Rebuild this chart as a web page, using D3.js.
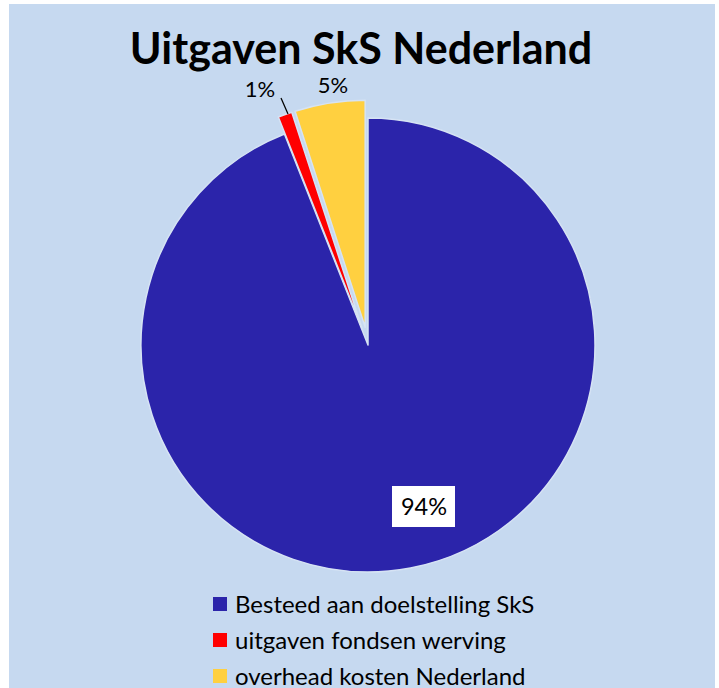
<!DOCTYPE html>
<html><head><meta charset="utf-8">
<script src="https://cdn.jsdelivr.net/npm/d3@7"></script>
<style>html,body{margin:0;padding:0;background:#fff;}svg{display:block;}</style>
</head><body>
<svg id="chart" width="719" height="688"></svg>
<script>
const categories = ["Besteed aan doelstelling SkS", "uitgaven fondsen werving", "overhead kosten Nederland"];
const values = [94, 1, 5];
const labels = ["94%", "1%", "5%"];
const colors = ["#2B24AA", "#FF0000", "#FFD040"];
const exploded = [false, true, true];

const svg = d3.select("#chart");
const font = "Lato, 'Open Sans', sans-serif";
svg.append("rect").attr("x", 9).attr("y", 4).attr("width", 706).attr("height", 684).attr("fill", "#C6D9F0");

svg.append("text").attr("x", 361).attr("y", 64).attr("text-anchor", "middle")
  .attr("font-family", font).attr("font-weight", "bold").attr("font-size", 43)
  .attr("fill", "#000").text("Uitgaven SkS Nederland");

const cx = 368, cy = 345, R = 227, explode = 18;
const pie = d3.pie().sort(null).value(d => d)(values);
const arc = d3.arc().innerRadius(0).outerRadius(R);
const g = svg.append("g").attr("transform", `translate(${cx},${cy})`);
pie.forEach((p, i) => {
  const mid = (p.startAngle + p.endAngle) / 2;
  const off = exploded[i] ? explode : 0;
  const dx = Math.sin(mid) * off, dy = -Math.cos(mid) * off;
  g.append("path").attr("d", arc(p)).attr("fill", colors[i])
    .attr("stroke", "#D6E3F4").attr("stroke-width", 1.5).attr("stroke-linejoin", "round")
    .attr("transform", `translate(${dx},${dy})`);
});

// 94% label with white box
svg.append("rect").attr("x", 392).attr("y", 486).attr("width", 63).attr("height", 41).attr("fill", "#fff");
svg.append("text").attr("x", 424).attr("y", 515).attr("text-anchor", "middle")
  .attr("font-family", font).attr("font-size", 23.5).attr("fill", "#000").text(labels[0]);

// 1% label with leader
svg.append("line").attr("x1", 281).attr("y1", 98).attr("x2", 288).attr("y2", 114)
  .attr("stroke", "#000").attr("stroke-width", 1.2);
svg.append("text").attr("x", 260).attr("y", 97).attr("text-anchor", "middle")
  .attr("font-family", font).attr("font-size", 22).attr("fill", "#000").text(labels[1]);
// 5%
svg.append("text").attr("x", 333).attr("y", 93).attr("text-anchor", "middle")
  .attr("font-family", font).attr("font-size", 22).attr("fill", "#000").text(labels[2]);

// legend
const lg = svg.append("g");
categories.forEach((c, i) => {
  const y = 604 + i * 36;
  lg.append("rect").attr("x", 213).attr("y", y - 7).attr("width", 14).attr("height", 14).attr("fill", colors[i]);
  lg.append("text").attr("x", 235).attr("y", y + 8.5).attr("font-family", font).attr("font-size", 24)
    .attr("fill", "#000").text(c);
});
</script>
</body></html>
